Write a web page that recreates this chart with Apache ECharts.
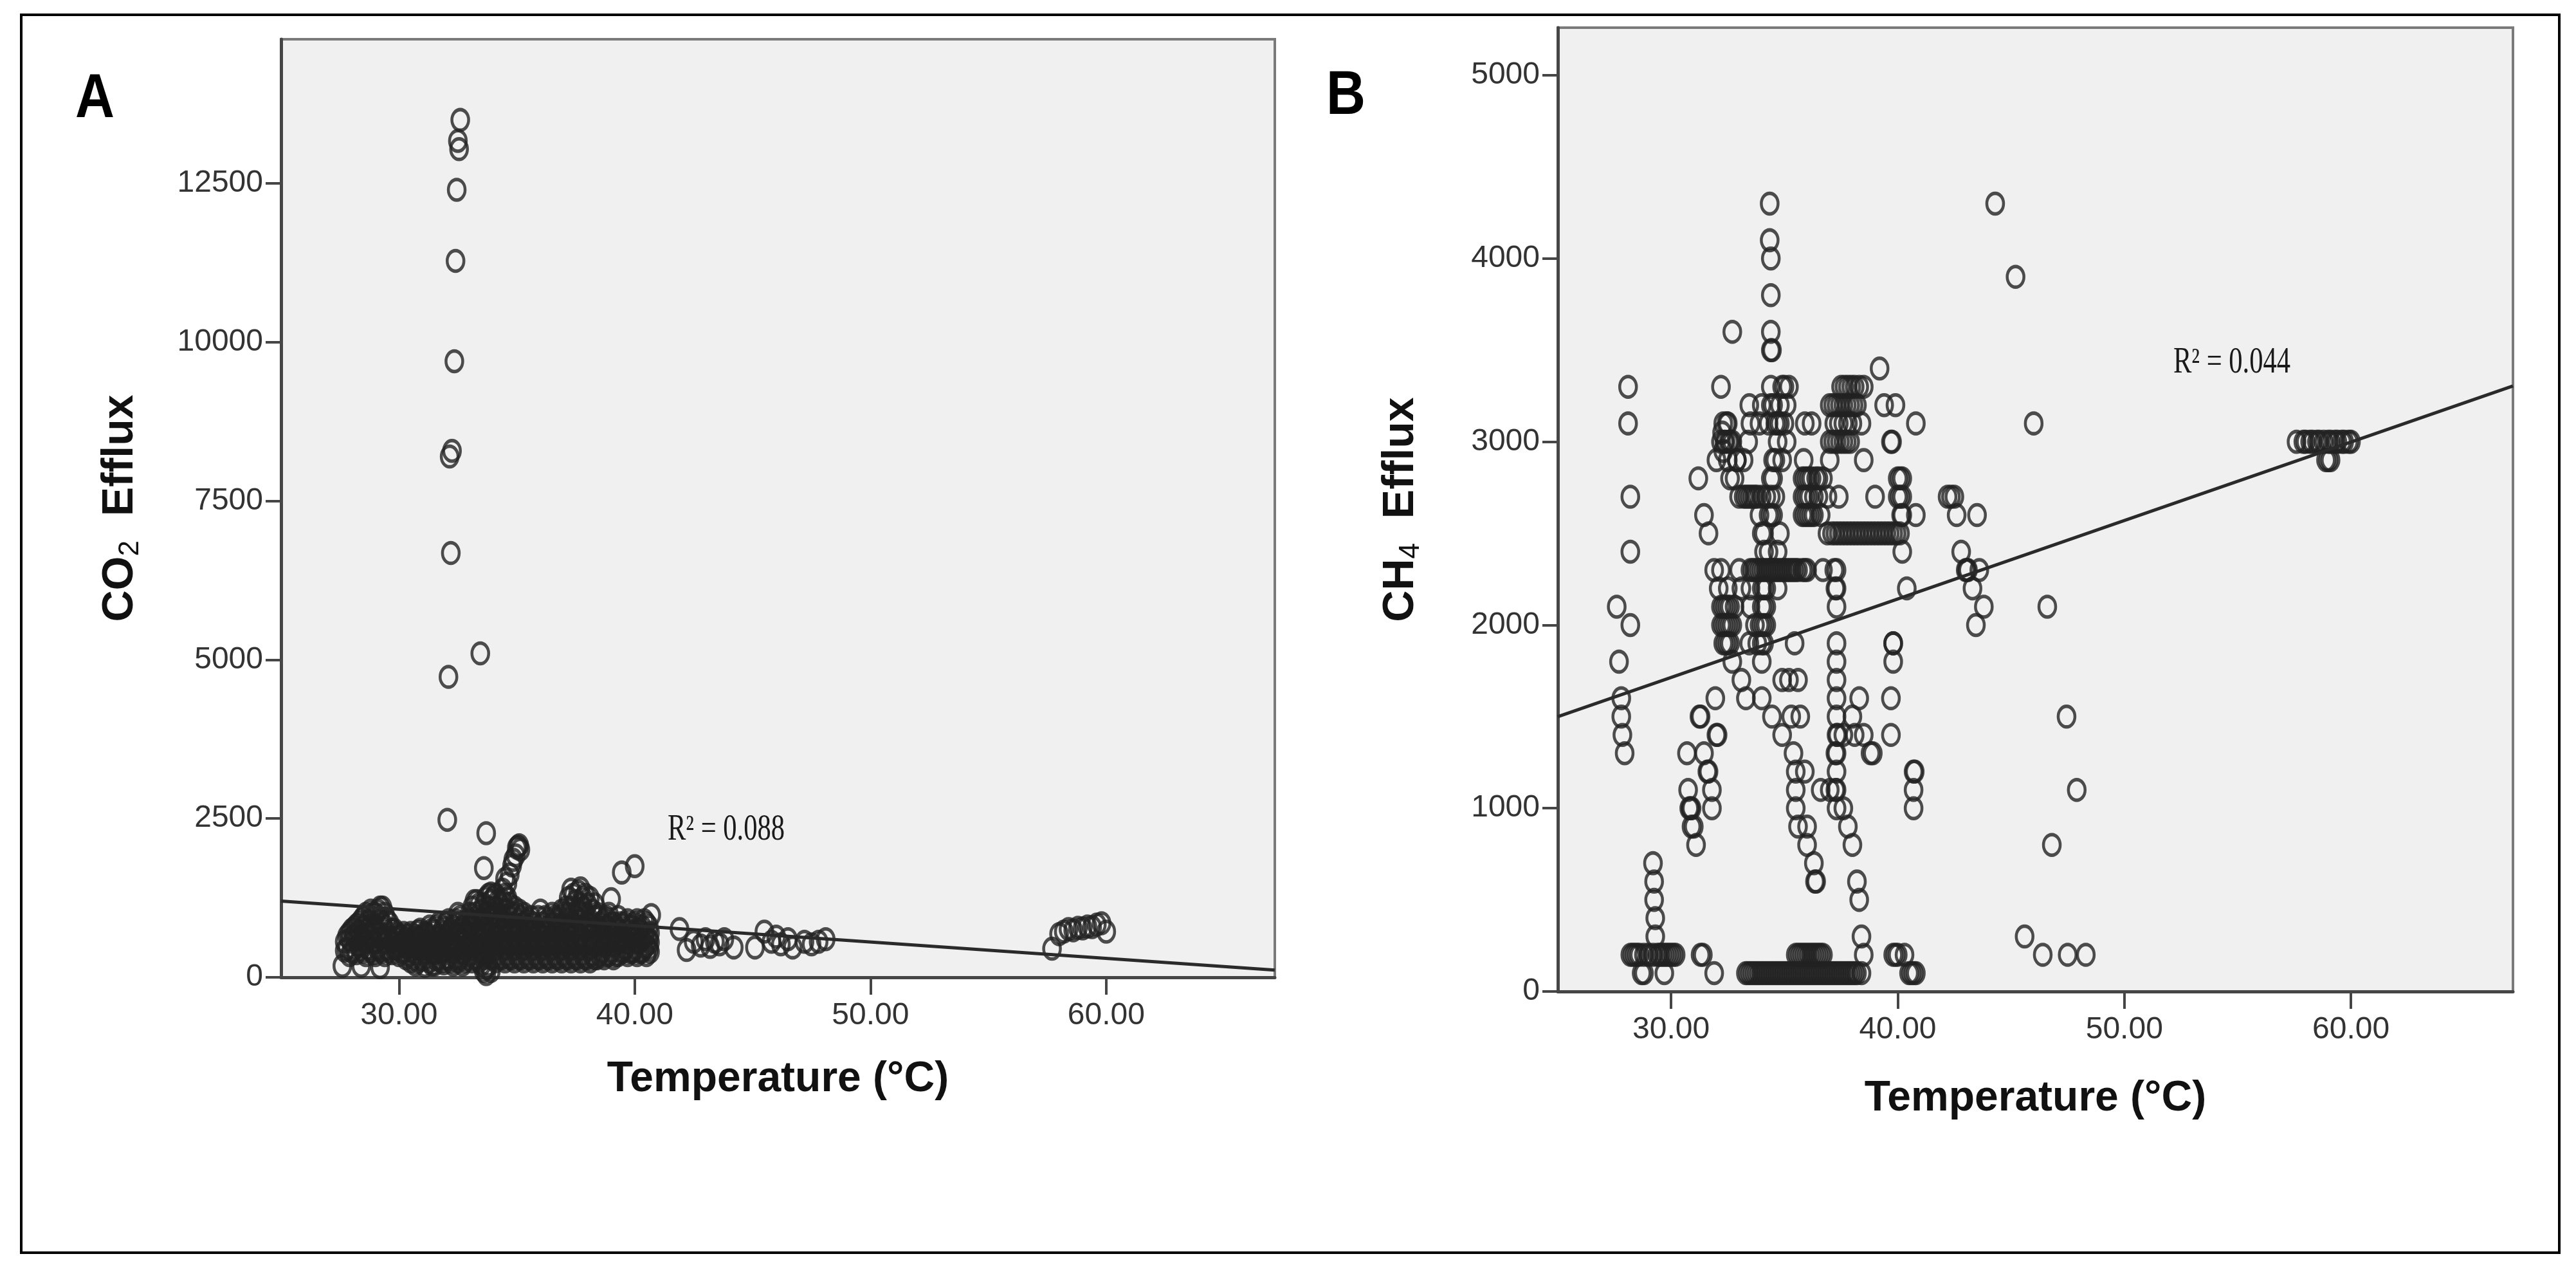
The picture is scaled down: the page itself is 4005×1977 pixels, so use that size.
<!DOCTYPE html>
<html>
<head>
<meta charset="utf-8">
<script src="https://cdn.jsdelivr.net/npm/echarts@6/dist/echarts.min.js"></script>
<style>
  html, body { margin: 0; padding: 0; background: #fff; }
  #charts { width: 4005px; height: 1977px; }
</style>
</head>
<body>
<div id="charts"></div>
<script>
// tick labels
var xTicks = [30, 40, 50, 60];
var co2Ticks = [0, 2500, 5000, 7500, 10000, 12500];
var ch4Ticks = [0, 1000, 2000, 3000, 4000, 5000];

// panel A : CO2 efflux vs temperature, scattered points
var co2Points = [
  [32.6,13500],[32.5,13170],[32.55,13040],[32.45,12400],[32.4,11280],[32.35,9700],[32.15,8200],[32.25,8290],
  [32.2,6680],[33.45,5100],[32.1,4730],[32.05,2480],[33.7,2270],[35.1,2080],[35.0,2040],[35.15,2010],
  [35.05,2060],[34.95,1920],[33.6,1720],[39.45,1650],[40.0,1750],[34.8,1760],[34.7,1620],[34.6,1480],
  [34.4,1380],[39.0,1230],[33.9,1320],[36.0,1050],[40.7,980],[34.85,1850],[34.5,1550],
  [27.6,180],[28.4,180],[29.2,160],
  [41.9,760],[42.2,430],[42.5,560],[42.8,500],[43.0,600],[43.2,480],[43.4,560],[43.6,520],[43.8,600],
  [44.2,470],[45.1,470],[45.5,720],[45.8,560],[46.0,640],[46.2,520],[46.5,600],[46.7,470],[47.2,560],
  [47.5,520],[47.8,560],[48.1,600],
  [57.7,450],[58.0,680],[58.2,720],[58.4,760],[58.6,740],[58.8,780],[59.0,770],[59.2,800],[59.4,790],
  [59.6,830],[59.8,850],[60.0,720]
];
// panel A : the dense cloud, one temperature column per row
var co2Columns = [
  [27.7, [420, 560]], [27.8, [450, 650]], [27.9, [350, 600, 700]], [28.0, [400, 560, 750]],
  [28.1, [450, 650, 780]], [28.2, [380, 600, 820]], [28.3, [500, 720, 850]], [28.4, [450, 650, 900]],
  [28.5, [400, 600, 800, 950]], [28.6, [350, 550, 750, 1000]], [28.7, [450, 650, 880]],
  [28.8, [420, 620, 820, 1050]], [28.9, [380, 560, 750, 1000]], [29.0, [350, 550, 800, 1000]],
  [29.1, [450, 700, 1050]], [29.2, [420, 620, 900, 1100]], [29.3, [400, 620, 850, 1100]],
  [29.4, [350, 550, 750, 1000]], [29.5, [450, 650, 900]], [29.6, [420, 620, 850]],
  [29.7, [380, 560, 750]], [29.8, [450, 600, 750]], [29.9, [450, 620, 700]], [30.0, [350, 500, 650]],
  [30.1, [400, 550, 650]], [30.2, [400, 550, 700]], [30.3, [300, 480, 600]], [30.4, [350, 520, 650]],
  [30.5, [250, 420, 560, 700]], [30.6, [300, 480, 620]], [30.7, [200, 380, 550, 650]],
  [30.8, [250, 450, 600, 720]], [30.9, [300, 480, 620, 750]], [31.0, [280, 450, 650]],
  [31.1, [180, 380, 560, 700]], [31.2, [300, 500, 680]], [31.3, [250, 450, 620, 800]],
  [31.4, [200, 400, 550, 750]], [31.5, [200, 380, 550, 720]], [31.6, [280, 450, 620, 800]],
  [31.7, [300, 480, 650, 850]], [31.8, [250, 400, 560, 720]], [31.9, [220, 420, 600, 780]],
  [32.0, [300, 450, 650, 850]], [32.1, [300, 500, 700, 900]], [32.2, [250, 450, 550, 750]],
  [32.3, [200, 400, 600, 800]], [32.4, [300, 500, 700, 900]], [32.5, [250, 450, 650, 850, 1000]],
  [32.6, [300, 550, 750, 950]], [32.7, [200, 380, 580, 780]], [32.8, [250, 450, 650, 850]],
  [32.9, [300, 500, 700, 900]], [33.0, [350, 550, 800, 1000]], [33.1, [250, 450, 650, 850, 1100]],
  [33.2, [300, 550, 750, 1000, 1200]], [33.3, [300, 500, 700, 950, 1200]],
  [33.4, [250, 450, 650, 900, 1150]], [33.5, [200, 400, 600, 800, 1050]],
  [33.6, [100, 300, 500, 700, 900, 1150]], [33.7, [50, 150, 350, 550, 750, 1000, 1250]],
  [33.8, [200, 400, 600, 850, 1100, 1300]], [33.9, [100, 300, 500, 700, 950, 1200]],
  [34.0, [300, 550, 750, 1000, 1250]], [34.1, [250, 450, 650, 850, 1100, 1300]],
  [34.2, [350, 550, 800, 1000, 1200]], [34.3, [300, 500, 700, 900, 1150]],
  [34.4, [300, 550, 750, 950, 1200]], [34.5, [250, 450, 650, 850, 1050, 1300]],
  [34.6, [350, 550, 800, 1050, 1250]], [34.7, [300, 500, 700, 950, 1150]],
  [34.8, [300, 550, 750, 1000]], [34.9, [250, 450, 650, 850, 1100]], [35.0, [350, 550, 800, 1000]],
  [35.1, [300, 500, 700, 900, 1050]], [35.2, [300, 550, 750, 950]], [35.3, [250, 450, 650, 850, 1000]],
  [35.4, [350, 550, 800]], [35.5, [300, 500, 700, 900]], [35.6, [300, 550, 750, 950]],
  [35.7, [250, 450, 650, 850]], [35.8, [350, 550, 750]], [35.9, [300, 500, 700, 950]],
  [36.0, [300, 550, 800]], [36.1, [250, 450, 650, 850]], [36.2, [350, 550, 750, 950]],
  [36.3, [300, 500, 700, 900]], [36.4, [300, 550, 800]], [36.5, [250, 450, 650, 850, 1000]],
  [36.6, [350, 550, 750, 950]], [36.7, [300, 500, 700, 900]], [36.8, [300, 550, 800, 950]],
  [36.9, [250, 450, 650, 850, 1050]], [37.0, [350, 550, 750, 1000]], [37.1, [300, 500, 700, 900, 1100]],
  [37.2, [300, 550, 800, 1000, 1250]], [37.3, [250, 450, 650, 850, 1100, 1380]],
  [37.4, [350, 550, 750, 1000, 1300]], [37.5, [300, 500, 700, 950, 1200]],
  [37.6, [300, 550, 800, 1050, 1350]], [37.7, [250, 450, 650, 900, 1150, 1400]],
  [37.8, [350, 600, 800, 1100, 1250]], [37.9, [300, 500, 750, 1000, 1300]],
  [38.0, [300, 550, 850, 1150]], [38.1, [250, 450, 650, 900, 1250]], [38.2, [350, 550, 800, 1050]],
  [38.3, [300, 500, 700, 950, 1150]], [38.4, [300, 550, 800, 1000]], [38.5, [350, 550, 750, 950]],
  [38.6, [400, 600, 850]], [38.7, [300, 500, 700, 900]], [38.8, [350, 550, 800, 950]],
  [38.9, [350, 550, 750, 1000]], [39.0, [400, 600, 850]], [39.1, [300, 500, 700, 850]],
  [39.2, [350, 600, 800]], [39.3, [350, 550, 750, 950]], [39.4, [400, 650, 850]],
  [39.5, [400, 600, 800]], [39.6, [450, 600, 850]], [39.7, [350, 550, 750, 900]],
  [39.8, [400, 650, 800]], [39.9, [400, 600, 800]], [40.0, [450, 700, 850]],
  [40.1, [350, 550, 750, 900]], [40.2, [400, 550, 750]], [40.3, [400, 600, 800]],
  [40.4, [450, 650, 900]], [40.5, [350, 500, 650, 850]], [40.6, [450, 600, 800]], [40.65, [400, 550, 700]]
];
var co2Fit = [[25, 1200], [67.15, 115]];

// panel B : CH4 efflux vs temperature
var ch4Points = [
  [28.1,3300],[28.1,3100],[28.2,2700],[28.2,2400],[27.6,2100],[28.2,2000],[27.7,1800],[27.8,1600],
  [27.8,1500],[27.85,1400],[27.95,1300],
  [29.2,700],[29.25,600],[29.25,500],[29.3,400],[29.3,300],
  [28.2,200],[28.4,200],[28.6,200],[28.8,200],[29.0,200],[29.2,200],[29.4,200],[29.6,200],[29.8,200],
  [30.0,200],[30.2,200],[28.3,200],[28.5,200],[29.5,200],[29.7,200],[29.9,200],[30.1,200],
  [28.7,100],[28.8,100],[29.7,100],
  [30.7,1300],[30.75,1100],[30.85,1000],[30.9,900],[31.1,800],[31.25,1500],[31.3,1500],[31.45,1300],
  [31.6,1200],[31.65,1200],[31.8,1100],[31.8,1000],[31.95,1600],[32.0,1400],[32.05,1400],[31.2,2800],
  [31.45,2600],[31.65,2500],[31.9,2300],[32.1,2200],[32.2,3300],[32.7,3600],[31.3,200],[31.4,200],[31.9,100],
  [30.8,1000],[30.9,1000],[31.0,900],
  [32.2,3000],[32.3,3100],[32.4,3000],[32.5,3100],[32.6,3000],[32.7,3000],[32.0,2900],[32.5,2900],
  [32.9,2900],[32.8,2800],[33.0,2700],[33.2,2700],[32.3,2100],[32.5,2100],[32.8,2100],[32.2,2000],
  [32.4,2000],[32.6,2000],[32.3,1900],[32.6,1900],[32.7,1800],[33.1,1700],[33.3,1600],[34.0,1600],
  [34.0,1800],[33.45,1900],[33.2,2900],[33.4,3000],[33.5,3100],[33.45,3200],[32.2,2300],[32.5,2200],
  [33.0,2300],[33.1,2200],[32.6,2800],[32.9,2900],
  [32.25,3050],[32.35,3000],[32.45,3100],[32.55,3000],[32.3,2950],[32.4,2100],[32.6,2100],[32.3,2000],
  [32.5,2000],[32.7,2000],[32.4,1900],[32.5,1900],[32.2,2100],
  [33.3,2700],[33.6,2700],[34.0,2700],[34.4,2700],[33.9,2600],[34.4,2600],[34.0,2500],[34.8,2500],
  [34.1,2400],[34.7,2400],[33.5,2300],[33.8,2300],[34.1,2300],[34.4,2300],[34.7,2300],[35.0,2300],
  [35.3,2300],[35.6,2300],[33.5,2200],[34.0,2200],[34.7,2200],[33.5,2100],[34.0,2100],[33.7,2000],
  [34.0,2000],[34.1,2000],[33.8,1900],
  [33.4,2700],[33.5,2700],[33.7,2700],[33.8,2700],[34.2,2700],[34.3,2600],[34.5,2600],[34.1,2500],
  [34.3,2400],[33.6,2300],[33.7,2300],[33.9,2300],[34.0,2300],[34.2,2300],[34.3,2300],[34.5,2300],
  [34.6,2300],[34.8,2300],[34.9,2300],[35.1,2300],[35.2,2300],[35.4,2300],[35.5,2300],[35.8,2300],
  [35.9,2300],[36.0,2300],[34.1,2200],[34.2,2200],[34.1,2100],[34.2,2100],[33.9,2000],[34.2,2000],
  [34.1,1900],[34.0,1900],
  [34.35,4300],[34.35,4100],[34.4,4000],[34.4,3800],[34.4,3600],[34.4,3500],[34.4,3300],[34.9,3300],
  [35.2,3300],[34.0,3200],[34.4,3200],[34.8,3200],[35.1,3200],[33.9,3100],[34.3,3100],[34.7,3100],
  [35.0,3100],[35.9,3100],[36.2,3100],[34.7,3000],[35.1,3000],[34.9,2900],[34.6,2900],[34.5,2800],[35.85,2900],
  [34.45,3500],[35.0,3300],[34.5,3200],[34.6,3100],[34.8,3100],[34.5,2900],[34.4,2800],[34.6,2700],
  [35.8,2800],[36.1,2800],[36.4,2800],[36.7,2800],[35.8,2700],[36.1,2700],[36.5,2700],[36.9,2700],
  [37.4,2700],[35.8,2600],[36.0,2600],[36.3,2600],[36.6,2600],[36.9,2500],[36.7,2300],[37.3,2300],
  [37.3,2200],[37.3,2100],
  [35.9,2800],[36.0,2800],[36.2,2800],[36.5,2800],[35.9,2700],[36.0,2700],[36.3,2700],[35.9,2600],
  [36.1,2600],[36.2,2600],[37.2,2300],[37.25,2200],
  [35.45,1900],[34.9,1700],[35.2,1700],[35.6,1700],[34.45,1500],[35.3,1500],[35.7,1500],[34.9,1400],
  [35.4,1300],[35.5,1200],[35.9,1200],[35.5,1100],[35.5,1000],[35.6,900],[36.0,900],[36.0,800],
  [36.3,700],[36.4,600],[36.35,600],
  [37.3,1900],[37.3,1800],[37.3,1700],[37.3,1600],[37.3,1500],[37.3,1400],[37.3,1300],[37.3,1200],
  [37.3,1100],[37.3,1000],[37.0,1100],[36.6,1100],[37.6,1000],[37.8,900],[38.0,800],[38.2,600],
  [38.3,500],[38.4,300],[38.5,200],[38.4,100],[37.25,1300],[37.25,1100],[37.35,1400],
  [37.6,1400],[38.1,1400],[38.3,1600],[38.5,1400],[38.9,1300],[38.0,1500],[38.8,1300],
  [37.1,2500],[37.4,2500],[37.7,2500],[38.0,2500],[38.3,2500],[38.6,2500],[38.9,2500],[39.2,2500],
  [39.5,2500],[39.8,2500],[40.1,2500],[37.25,2500],[37.55,2500],[37.85,2500],[38.15,2500],[38.45,2500],
  [38.75,2500],[39.05,2500],[39.35,2500],[39.65,2500],[39.95,2500],
  [37.0,3200],[37.3,3200],[37.6,3200],[37.9,3200],[38.2,3200],[37.0,3000],[37.3,3000],[37.6,3000],
  [37.9,3000],[37.2,3100],[37.6,3100],[38.0,3100],[38.4,3100],[37.5,3300],[37.8,3300],[38.1,3300],
  [38.5,3300],[38.5,2900],[37.0,2900],[39.2,3400],[39.0,2700],[39.4,3200],[39.9,3200],[39.7,3000],
  [37.15,3200],[37.45,3200],[37.75,3200],[38.05,3200],[37.15,3000],[37.45,3000],[37.75,3000],
  [37.4,3100],[37.8,3100],[37.65,3300],[37.95,3300],[38.3,3300],[39.75,3000],
  [40.2,2800],[40.2,2700],[40.0,2700],[40.2,2600],[40.0,2800],[40.8,3100],[40.8,2600],[40.2,2400],
  [40.4,2200],[39.8,1900],[39.8,1800],[39.7,1600],[39.7,1400],[40.7,1200],[40.7,1100],[40.7,1000],
  [40.1,2800],[40.1,2700],[40.15,2600],[39.8,1900],[40.75,1200],
  [39.8,200],[40.0,200],[40.3,200],[40.5,100],[40.7,100],[40.8,100],[39.9,200],[40.6,100],
  [33.3,100],[33.5,100],[33.7,100],[33.9,100],[34.1,100],[34.3,100],[34.5,100],[34.7,100],[34.9,100],
  [35.1,100],[35.3,100],[35.5,100],[35.7,100],[35.9,100],[36.1,100],[36.3,100],[36.5,100],[36.7,100],
  [36.9,100],[37.1,100],[37.3,100],[37.5,100],[37.7,100],[37.9,100],[38.1,100],
  [33.4,100],[33.6,100],[33.8,100],[34.0,100],[34.2,100],[34.4,100],[34.6,100],[34.8,100],[35.0,100],
  [35.2,100],[35.4,100],[35.6,100],[35.8,100],[36.0,100],[36.2,100],[36.4,100],[36.6,100],[36.8,100],
  [37.0,100],[37.2,100],[37.4,100],[37.6,100],[37.8,100],[38.0,100],[38.2,100],
  [35.5,200],[35.7,200],[35.9,200],[36.1,200],[36.3,200],[36.5,200],[36.7,200],
  [35.6,200],[35.8,200],[36.0,200],[36.2,200],[36.4,200],[36.6,200],
  [42.2,2700],[42.5,2700],[42.6,2600],[43.5,2600],[42.8,2400],[43.0,2300],[43.1,2300],[43.6,2300],
  [43.3,2200],[43.8,2100],[43.45,2000],[42.35,2700],[43.05,2300],
  [44.3,4300],[45.2,3900],[46.0,3100],[46.6,2100],[47.45,1500],[47.9,1100],[46.8,800],[45.6,300],
  [46.4,200],[47.5,200],[48.3,200],
  [57.6,3000],[57.9,3000],[58.2,3000],[58.5,3000],[58.8,3000],[59.1,3000],[59.4,3000],[59.7,3000],
  [60.0,3000],[58.9,2900],[59.1,2900],[58.0,3000],[58.3,3000],[58.6,3000],[59.0,3000],[59.3,3000],
  [59.6,3000],[59.9,3000],[59.0,2900]
];
var ch4Fit = [[25, 1500], [67.15, 3305]];

var xRange = [25, 67.15];
var co2Max = 14770;
var ch4Max = 5260;

// flatten the column table of panel A into [x, y] pairs
var co2All = co2Points.slice();
co2Columns.forEach(function (col) {
    col[1].forEach(function (y) { co2All.push([col[0], y]); });
});

var sansNarrow = "'Liberation Sans Narrow', 'Arial Narrow', 'Liberation Sans', Arial, sans-serif";
var ring = 'path://M0,50 A50,50 0 1,1 100,50 A50,50 0 1,1 0,50 Z';

function xAxisOf(gridIndex, gap) {
    return {
        type: 'value', gridIndex: gridIndex,
        min: xRange[0], max: xRange[1],
        name: 'Temperature (°C)', nameLocation: 'middle', nameGap: gap,
        nameTextStyle: { fontFamily: sansNarrow, fontWeight: 'bold', fontSize: 66, color: '#111' },
        axisLine: { show: true, lineStyle: { color: '#464646', width: 5 } },
        axisTick: { show: true, length: 27, customValues: xTicks, lineStyle: { color: '#464646', width: 4 } },
        axisLabel: { customValues: xTicks, margin: 36, fontFamily: sansNarrow, fontSize: 48, color: '#333',
            formatter: function (v) { return v.toFixed(2); } },
        splitLine: { show: false }
    };
}

function yAxisOf(gridIndex, maxV, ticks, sub, gap) {
    return {
        type: 'value', gridIndex: gridIndex,
        min: 0, max: maxV,
        name: '{m|' + sub[0] + '}{s|' + sub[1] + '}{m|  Efflux}',
        nameLocation: 'middle', nameRotate: 90, nameGap: gap,
        nameTextStyle: {
            rich: {
                m: { fontFamily: sansNarrow, fontWeight: 'bold', fontSize: 68, color: '#111', lineHeight: 76 },
                s: { fontFamily: sansNarrow, fontSize: 44, color: '#111', lineHeight: 44, verticalAlign: 'bottom' }
            }
        },
        axisLine: { show: true, lineStyle: { color: '#464646', width: 5 } },
        axisTick: { show: true, length: 24, customValues: ticks, lineStyle: { color: '#464646', width: 4 } },
        axisLabel: { customValues: ticks, margin: 28, fontFamily: sansNarrow, fontSize: 48, color: '#333',
            formatter: function (v) { return String(v); } },
        splitLine: { show: false }
    };
}

function pointsOf(data, xi, yi) {
    return {
        type: 'scatter', xAxisIndex: xi, yAxisIndex: yi, data: data,
        symbol: ring, symbolSize: [26, 32],
        itemStyle: { color: 'rgba(0,0,0,0)', borderColor: '#222', borderWidth: 5 },
        emphasis: { disabled: true }, silent: true
    };
}

function fitOf(data, xi, yi) {
    return {
        type: 'line', xAxisIndex: xi, yAxisIndex: yi, data: data,
        symbol: 'none', lineStyle: { color: '#2a2a2a', width: 5 }, z: 3, silent: true
    };
}

var myChart = echarts.init(document.getElementById('charts'));

var option = {
    animation: false,
    backgroundColor: '#ffffff',
    grid: [
        { left: 437, top: 61, right: 2023, bottom: 458, show: true, backgroundColor: '#f0f0f0', borderColor: '#7a7a7a', borderWidth: 4 },
        { left: 2422, top: 43, right: 98, bottom: 436, show: true, backgroundColor: '#f0f0f0', borderColor: '#7a7a7a', borderWidth: 4 }
    ],
    xAxis: [xAxisOf(0, 126), xAxisOf(1, 134)],
    yAxis: [yAxisOf(0, co2Max, co2Ticks, ['CO', '2'], 212), yAxisOf(1, ch4Max, ch4Ticks, ['CH', '4'], 206)],
    series: [
        pointsOf(co2All, 0, 0),
        fitOf(co2Fit, 0, 0),
        pointsOf(ch4Points, 1, 1),
        fitOf(ch4Fit, 1, 1)
    ],
    graphic: [
        { type: 'rect', shape: { x: 33, y: 23, width: 3946, height: 1924 },
          style: { fill: 'none', stroke: '#000', lineWidth: 4 }, z: 10 },
        { type: 'text', x: 117, y: 156, scaleX: 0.88,
          style: { text: 'A', font: 'bold 96px "Liberation Sans", Arial, sans-serif', fill: '#000', verticalAlign: 'middle' } },
        { type: 'text', x: 2062, y: 151, scaleX: 0.88,
          style: { text: 'B', font: 'bold 96px "Liberation Sans", Arial, sans-serif', fill: '#000', verticalAlign: 'middle' } },
        { type: 'text', x: 1129, y: 1290, scaleX: 0.76, z: 5,
          style: { text: 'R² = 0.088', font: '56px "Liberation Serif", "Times New Roman", serif', fill: '#1a1a1a', align: 'center', verticalAlign: 'middle' } },
        { type: 'text', x: 3470, y: 564, scaleX: 0.76, z: 5,
          style: { text: 'R² = 0.044', font: '56px "Liberation Serif", "Times New Roman", serif', fill: '#1a1a1a', align: 'center', verticalAlign: 'middle' } }
    ]
};

myChart.setOption(option);
</script>
</body>
</html>
